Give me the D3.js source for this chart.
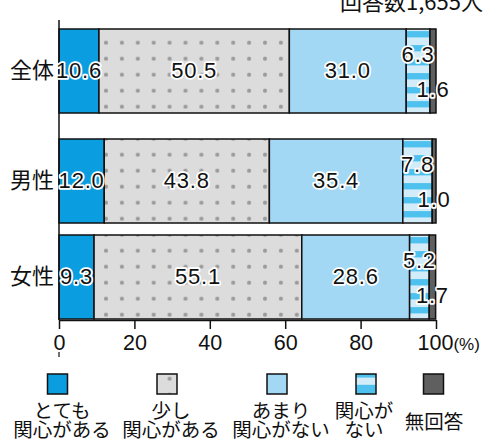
<!DOCTYPE html>
<html>
<head>
<meta charset="utf-8">
<script src="https://cdn.jsdelivr.net/npm/d3@7"></script>
<style>
  html, body { margin: 0; padding: 0; background: #fff; }
  svg { display: block; }
  text { font-family: "Noto Sans CJK JP", "Noto Sans", sans-serif; fill: #111; }
  .num { font-family: "Liberation Sans", Arial, sans-serif; font-size: 22px; letter-spacing: 0.8px;
         stroke: #fff; stroke-width: 3.5px; paint-order: stroke; stroke-linejoin: round; }
</style>
</head>
<body>
<svg id="chart" width="488" height="439"></svg>
<script>
// Survey groups and response shares (%)
const groups = ["全体", "男性", "女性"];
const responses = ["とても関心がある", "少し関心がある", "あまり関心がない", "関心がない", "無回答"];
const veryInterested   = [10.6, 12.0, 9.3];
const somewhat         = [50.5, 43.8, 55.1];
const notVery          = [31.0, 35.4, 28.6];
const notAtAll         = [6.3, 7.8, 5.2];
const noAnswer         = [1.6, 1.0, 1.7];
const xTicks = [0, 20, 40, 60, 80, 100];
const legendLines = [["とても", "関心がある"], ["少し", "関心がある"], ["あまり", "関心がない"], ["関心が", "ない"], ["無回答"]];
const respondents = "回答数1,655人";

const rows = groups.map((g, i) => ({
  group: g,
  [responses[0]]: veryInterested[i],
  [responses[1]]: somewhat[i],
  [responses[2]]: notVery[i],
  [responses[3]]: notAtAll[i],
  [responses[4]]: noAnswer[i]
}));

const svg = d3.select("#chart");

// Fills
const defs = svg.append("defs");
const dots = defs.append("pattern").attr("id", "dots")
  .attr("patternUnits", "userSpaceOnUse")
  .attr("x", 98.05).attr("y", 34.7).attr("width", 15.9).attr("height", 16);
dots.append("rect").attr("width", 15.9).attr("height", 16).attr("fill", "#dcdcdc");
dots.append("circle").attr("cx", 7.95).attr("cy", 8).attr("r", 2.1).attr("fill", "#999");

const stripes = defs.append("pattern").attr("id", "stripes")
  .attr("patternUnits", "objectBoundingBox")
  .attr("patternContentUnits", "objectBoundingBox")
  .attr("width", 1).attr("height", 1 / 6);
stripes.append("rect").attr("width", 1).attr("height", 1 / 6).attr("fill", "#d3ecf9");
stripes.append("rect").attr("y", 0.025).attr("width", 1).attr("height", 0.075).attr("fill", "#4fc1ee");

const stripesKey = defs.append("pattern").attr("id", "stripesKey")
  .attr("patternUnits", "objectBoundingBox")
  .attr("patternContentUnits", "objectBoundingBox")
  .attr("width", 1).attr("height", 1);
stripesKey.append("rect").attr("width", 1).attr("height", 1).attr("fill", "#4fc1ee");
stripesKey.append("rect").attr("y", 0.18).attr("width", 1).attr("height", 0.36).attr("fill", "#d3ecf9");

const fills = ["#0a9de0", "url(#dots)", "#a3d8f5", "url(#stripes)", "#5f5f5f"];
const keyFills = ["#0a9de0", "url(#dots)", "#a3d8f5", "url(#stripesKey)", "#5f5f5f"];

// Scales
const x = d3.scaleLinear().domain([0, 100]).range([59, 436]);
const barTop = d3.scaleOrdinal().domain(groups).range([29, 139, 235]);
const barH = 84;

const stacked = d3.stack().keys(responses)(rows);

// Bars
const layers = svg.append("g").selectAll("g").data(stacked).join("g")
  .attr("fill", (d, i) => fills[i]);
layers.selectAll("rect").data(d => d).join("rect")
  .attr("x", d => x(d[0]))
  .attr("y", d => barTop(d.data.group))
  .attr("width", d => x(d[1]) - x(d[0]))
  .attr("height", barH)
  .attr("stroke", "#111").attr("stroke-width", 1.5);

// Axes
const axisY = 320;
svg.append("line").attr("x1", x(0)).attr("x2", x(0)).attr("y1", 20).attr("y2", axisY)
  .attr("stroke", "#111").attr("stroke-width", 1.5);
svg.append("line").attr("x1", x(0)).attr("x2", x(0)).attr("y1", 352).attr("y2", 357)
  .attr("stroke", "#111").attr("stroke-width", 1.2);

const xAxis = svg.append("g").attr("transform", `translate(0,${axisY})`)
  .call(d3.axisBottom(x).tickValues(xTicks).tickSize(9).tickSizeOuter(0).tickPadding(6));
xAxis.select(".domain").attr("stroke", "#111").attr("stroke-width", 1.5);
xAxis.selectAll(".tick line").attr("stroke", "#111").attr("stroke-width", 1.5);
xAxis.selectAll(".tick text")
  .style("font-family", "'Liberation Sans', Arial, sans-serif")
  .style("font-size", "21.5px").attr("fill", "#111");
xAxis.selectAll(".tick").filter(d => d === 100).select("text")
  .attr("text-anchor", "start").attr("x", -19)
  .append("tspan").style("font-size", "17px").text("(%)");

// Group labels
svg.append("g").selectAll("text").data(groups).join("text")
  .attr("x", 54).attr("y", g => barTop(g) + barH / 2 + 7)
  .attr("text-anchor", "end").style("font-size", "22px")
  .text(g => g);

// Value labels
const labels = [];
stacked.forEach((layer, k) => layer.forEach(d => {
  const base = barTop(d.data.group) + barH / 2 + 7;
  const dy = k === 3 ? -16 : k === 4 ? 19 : 0;
  labels.push({ cx: (x(d[0]) + x(d[1])) / 2, y: base + dy, v: d[1] - d[0] });
}));
svg.append("g").selectAll("text").data(labels).join("text")
  .attr("class", "num")
  .attr("x", d => d.cx).attr("y", d => d.y)
  .attr("text-anchor", "middle")
  .text(d => d.v.toFixed(1));

// Respondent count
svg.append("text").attr("x", 483).attr("y", 10).attr("text-anchor", "end")
  .style("font-size", "22px").text(respondents);

// Legend
const keyCenters = [57.5, 167, 277, 366, 433.5];
const keyTextCenters = [62, 171, 281, 364, 434];
const legend = svg.append("g");
legend.selectAll("rect").data(responses).join("rect")
  .attr("x", (d, i) => keyCenters[i] - 10).attr("y", 374)
  .attr("width", 20).attr("height", 20)
  .attr("fill", (d, i) => keyFills[i])
  .attr("stroke", "#111").attr("stroke-width", 1.5);
legend.selectAll("text").data(legendLines).join("text")
  .attr("text-anchor", "middle")
  .style("font-size", "19.5px")
  .each(function (lines, i) {
    const t = d3.select(this);
    if (lines.length === 1) {
      t.append("tspan").attr("x", keyTextCenters[i]).attr("y", 429).text(lines[0]);
    } else {
      lines.forEach((s, j) => t.append("tspan").attr("x", keyTextCenters[i]).attr("y", 418 + j * 18.5).text(s));
    }
  });
</script>
</body>
</html>
